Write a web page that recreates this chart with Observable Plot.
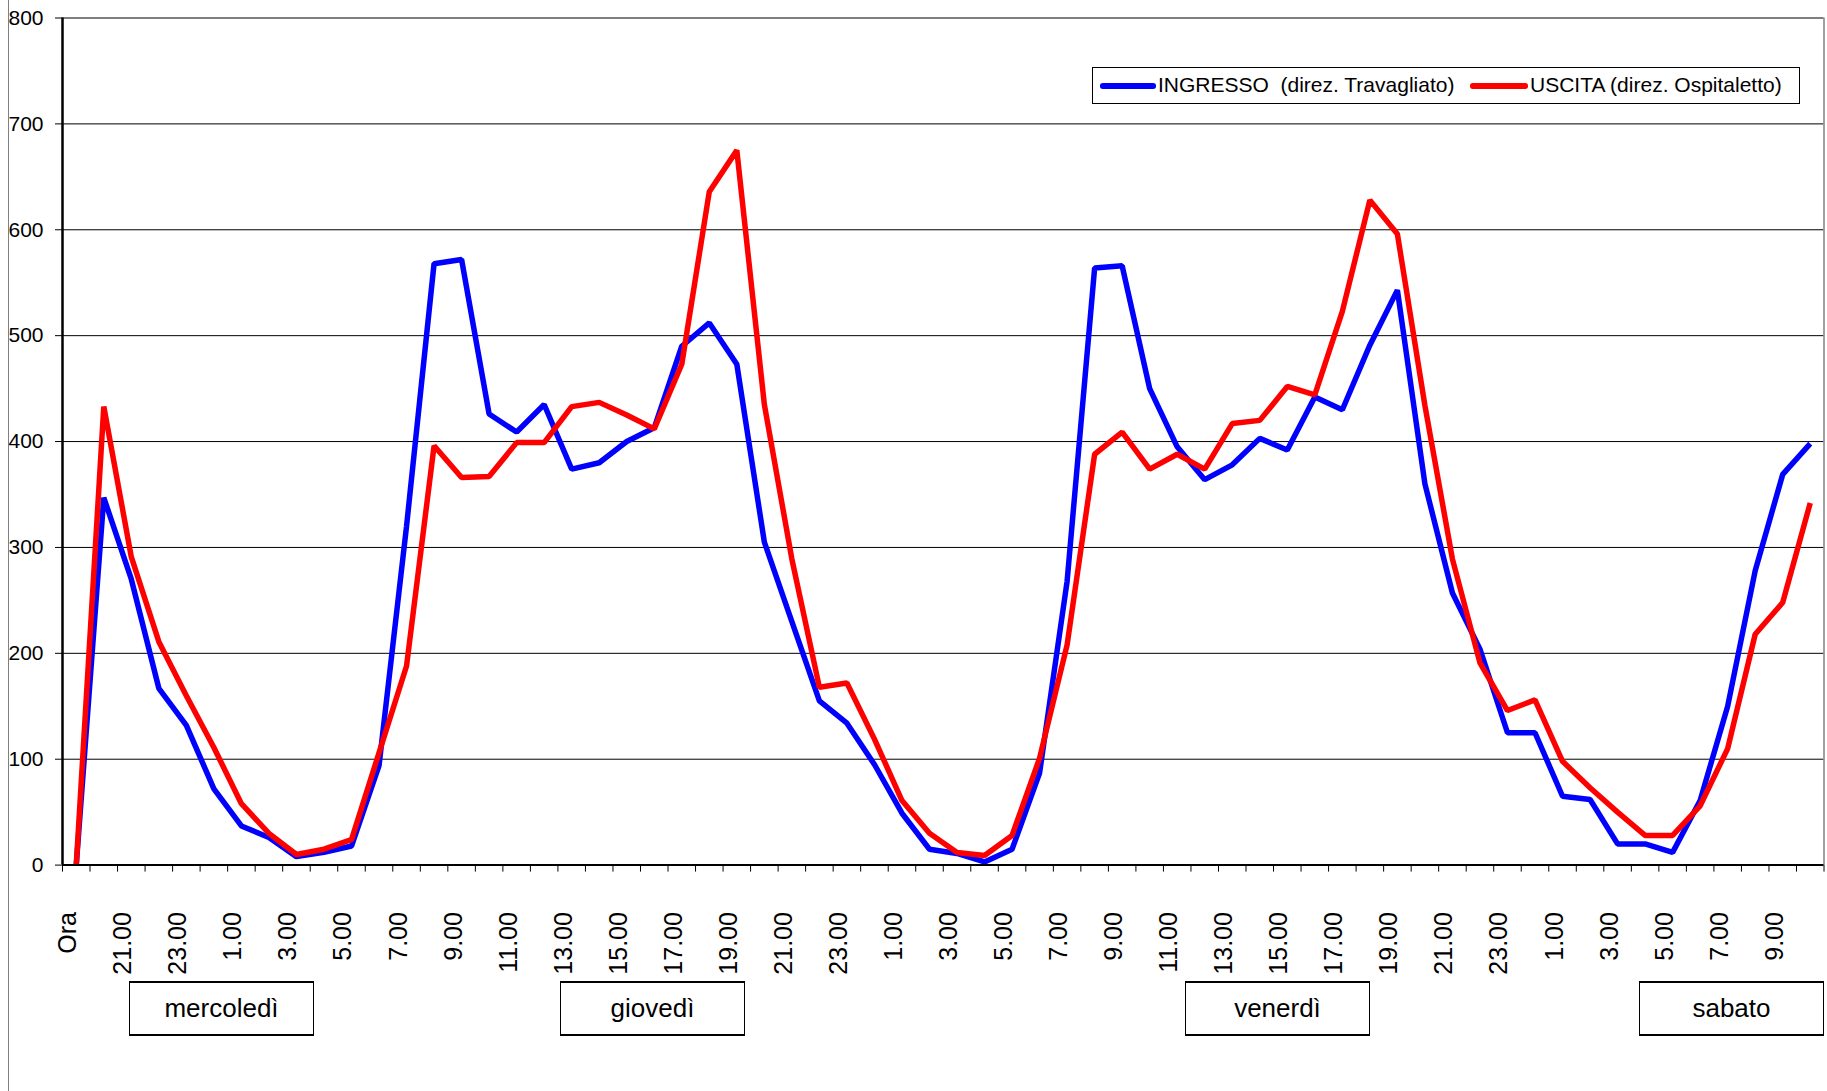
<!DOCTYPE html>
<html>
<head>
<meta charset="utf-8">
<script src="https://cdn.jsdelivr.net/npm/d3@7"></script>
<script src="https://cdn.jsdelivr.net/npm/@observablehq/plot@0.6"></script>
<style>
  html, body { margin: 0; padding: 0; background: #fff; }
  body { font-family: "Liberation Sans", Arial, sans-serif; }
  #wrap { position: relative; width: 1827px; height: 1091px; overflow: hidden; background: #fff; }
  #chart { position: absolute; left: 0; top: 0; }
  .edge { position: absolute; left: 8px; top: 0; width: 0; height: 1091px; border-left: 1.5px solid #808080; }
  .legend { position: absolute; left: 1092px; top: 67px; width: 708px; height: 37px; box-sizing: border-box;
            border: 1.5px solid #000; background: #fff; font-size: 21px; color: #000; }
  .legend .sw { position: absolute; top: 15px; height: 5.5px; border-radius: 2.75px; }
  .legend .lab { position: absolute; top: 5px; white-space: pre; line-height: 24px; }
  .day { position: absolute; top: 981px; width: 185px; height: 55px; box-sizing: border-box;
         border: 1.5px solid #000; border-top-width: 2.5px; border-bottom-width: 2.5px;
         font-size: 26px; line-height: 50px; text-align: center; background: #fff; color: #000; }
</style>
</head>
<body>
<div id="wrap">
  <div class="edge"></div>
  <div id="chart"></div>
</div>
<script>
// ---- data ----
const categories = [
  "Ora",
  "20.00","21.00","22.00","23.00",
  "0.00","1.00","2.00","3.00","4.00","5.00","6.00","7.00","8.00","9.00","10.00","11.00",
  "12.00","13.00","14.00","15.00","16.00","17.00","18.00","19.00","20.00","21.00","22.00","23.00",
  "0.00","1.00","2.00","3.00","4.00","5.00","6.00","7.00","8.00","9.00","10.00","11.00",
  "12.00","13.00","14.00","15.00","16.00","17.00","18.00","19.00","20.00","21.00","22.00","23.00",
  "0.00","1.00","2.00","3.00","4.00","5.00","6.00","7.00","8.00","9.00","10.00"
];
const ingresso = [
  0, 347, 270, 167, 132, 72, 37, 26, 8, 12, 18,
  94, 320, 568, 572, 426, 409, 435, 374, 380, 400,
  413, 490, 512, 473, 305, 230, 155, 134, 95, 49,
  15, 11, 3, 15, 87, 268, 564, 566, 450, 395,
  364, 378, 403, 392, 442, 430, 491, 543, 360, 257,
  204, 125, 125, 65, 62, 20, 20, 12, 61, 150,
  278, 369, 398
];
const uscita = [
  0, 433, 291, 211, 160, 111, 58, 30, 10, 15, 24,
  106, 188, 396, 366, 367, 399, 399, 433, 437, 425,
  412, 473, 636, 675, 435, 289, 168, 172, 119, 61,
  30, 12, 9, 28, 101, 208, 388, 409, 374, 388,
  374, 417, 420, 452, 444, 523, 628, 596, 434, 289,
  191, 146, 156, 98, 73, 50, 28, 28, 56, 110,
  218, 248, 342
];
const yTicks = [0, 100, 200, 300, 400, 500, 600, 700, 800];
const seriesNames = ["INGRESSO  (direz. Travagliato)", "USCITA (direz. Ospitaletto)"];
const seriesColors = ["#0000ff", "#ff0000"];
const days = ["mercoledì", "giovedì", "venerdì", "sabato"];

// ---- derived ----
const idx = categories.map((_, i) => i);
const labelIdx = idx.filter(i => i % 2 === 0);
const boundaries = idx.map(i => i - 0.5).concat([categories.length - 0.5]);
const rows = [];
ingresso.forEach((v, i) => rows.push({i, v, s: seriesNames[0]}));
uscita.forEach((v, i) => rows.push({i, v, s: seriesNames[1]}));

const W = 1827, H = 980;
const plotBottom = 864.6;
const chart = Plot.plot({
  width: W,
  height: H,
  marginLeft: 62,
  marginRight: 3.5,
  marginTop: 17.5,
  marginBottom: H - plotBottom,
  style: {fontFamily: "'Liberation Sans', Arial, sans-serif", background: "transparent", overflow: "visible", color: "#000"},
  x: {type: "linear", domain: [-0.5, categories.length - 0.5], axis: null, label: null},
  y: {domain: [0, 800], axis: null, label: null},
  color: {domain: seriesNames, range: seriesColors},
  marks: [
    Plot.gridY({ticks: yTicks.slice(1), stroke: "#000", strokeOpacity: 1, strokeWidth: 1}),
    Plot.ruleX([categories.length - 0.5], {stroke: "#808080", strokeWidth: 1.5}),
    Plot.axisY({ticks: yTicks, tickSize: 7, tickPadding: 12, fontSize: 21, label: null,
                tickFormat: d => String(d), stroke: "#000"}),
    Plot.axisX({ticks: boundaries, tickSize: 7, tickFormat: () => "", label: null, stroke: "#000"}),
    Plot.text(labelIdx, {x: d => d, frameAnchor: "bottom", dy: 47, rotate: -90, textAnchor: "end",
                         text: d => categories[d], fontSize: 25, fill: "#000"}),
    Plot.lineY(rows, {x: "i", y: "v", z: "s", stroke: "s", strokeWidth: 5.5, strokeLinejoin: "miter", strokeLinecap: "butt"}),
    Plot.ruleX([-0.5], {stroke: "#000", strokeWidth: 2.5}),
    Plot.ruleY([0], {stroke: "#000", strokeWidth: 2})
  ]
});
document.getElementById("chart").appendChild(chart);

// ---- legend (inside plot area, top right) ----
const wrap = document.getElementById("wrap");
const legend = document.createElement("div");
legend.className = "legend";
const legendItems = [
  {swLeft: 7, swWidth: 56, labLeft: 65},
  {swLeft: 377, swWidth: 58, labLeft: 437}
];
seriesNames.forEach((name, k) => {
  const sw = document.createElement("span");
  sw.className = "sw";
  sw.style.left = legendItems[k].swLeft + "px";
  sw.style.width = legendItems[k].swWidth + "px";
  sw.style.background = seriesColors[k];
  legend.appendChild(sw);
  const lab = document.createElement("span");
  lab.className = "lab";
  lab.style.left = legendItems[k].labLeft + "px";
  lab.textContent = name;
  legend.appendChild(lab);
});
wrap.appendChild(legend);

// ---- day boxes below the axis ----
const dayLeft = [129, 560, 1185, 1639];
days.forEach((d, k) => {
  const b = document.createElement("div");
  b.className = "day";
  b.style.left = dayLeft[k] + "px";
  b.textContent = d;
  wrap.appendChild(b);
});
</script>
</body>
</html>
